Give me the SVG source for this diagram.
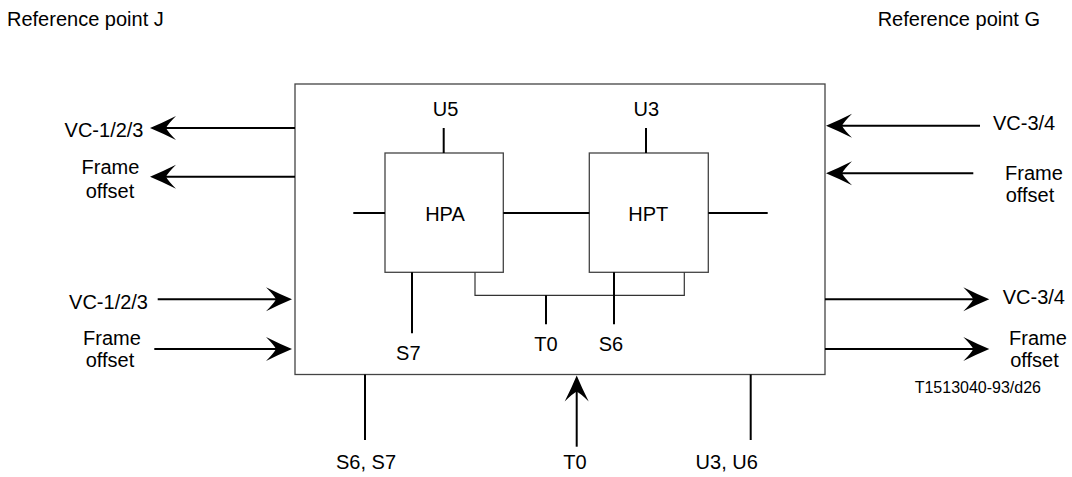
<svg xmlns="http://www.w3.org/2000/svg" width="1072" height="477" viewBox="0 0 1072 477">
<style>
text{font-family:"Liberation Sans",Arial,sans-serif;font-size:20px;fill:#000}
.s{font-size:16px}
.m{text-anchor:middle}
.e{text-anchor:end}
.box{fill:#fff;stroke:#444;stroke-width:1.3}
.w{stroke:#000;stroke-width:2;fill:none}
.t{stroke:#333;stroke-width:1.2;fill:none}
.a{stroke:#000;stroke-width:2;fill:none;marker-end:url(#ah)}
</style>
<defs>
<marker id="ah" markerUnits="userSpaceOnUse" viewBox="-27 -13 28 26" markerWidth="28" markerHeight="26" refX="-10" refY="0" orient="auto" overflow="visible">
<path d="M0,0 Q-12,-5 -26,-12 Q-18,-4 -16,0 Q-18,4 -26,12 Q-12,5 0,0 Z" fill="#000"/>
</marker>
</defs>
<g id="refJ"><text x="7" y="25.5">Reference point J</text></g>
<g id="refG"><text class="e" x="1040" y="25.5">Reference point G</text></g>
<g id="main"><rect class="box" x="295" y="84" width="530" height="290.5"/></g>
<g id="HPA"><rect class="box" x="385" y="153" width="118.3" height="119.3"/><text class="m" x="445" y="220.7">HPA</text></g>
<g id="HPT"><rect class="box" x="589.3" y="153" width="119" height="119.3"/><text class="m" x="648.3" y="220.7">HPT</text></g>
<g id="connectors">
<line class="a" x1="295" y1="128" x2="160" y2="128"/>
<line class="a" x1="295" y1="176.7" x2="160" y2="176.7"/>
<line class="a" x1="157.7" y1="299.3" x2="282" y2="299.3"/>
<line class="a" x1="154.3" y1="349" x2="282" y2="349"/>
<line class="a" x1="980" y1="125.7" x2="836" y2="125.7"/>
<line class="a" x1="973.3" y1="173.3" x2="836" y2="173.3"/>
<line class="a" x1="825" y1="299.3" x2="979.3" y2="299.3"/>
<line class="a" x1="825" y1="349" x2="979.3" y2="349"/>
<line class="a" x1="576.7" y1="446.7" x2="576.7" y2="385.5"/>
<line class="w" x1="365" y1="374.5" x2="365" y2="440"/>
<line class="w" x1="750.7" y1="374.5" x2="750.7" y2="440"/>
<line class="w" x1="353.3" y1="213" x2="385" y2="213"/>
<line class="w" x1="503.3" y1="213" x2="589.3" y2="213"/>
<line class="w" x1="708.3" y1="213" x2="767.7" y2="213"/>
<line class="w" x1="443.7" y1="128" x2="443.7" y2="153"/>
<line class="w" x1="646" y1="128" x2="646" y2="153"/>
<line class="w" x1="412" y1="272.3" x2="412" y2="333.3"/>
<polyline class="t" points="475,272.3 475,295.3 684.3,295.3 684.3,272.3"/>
<line class="w" x1="546" y1="295.3" x2="546" y2="324.3"/>
<line class="w" x1="614" y1="272.3" x2="614" y2="324.3"/>
</g>
<g id="labels">
<text class="e" x="143.5" y="137">VC-1/2/3</text>
<text class="m" x="110.5" y="174.3">Frame</text>
<text class="m" x="110" y="198">offset</text>
<text class="e" x="148" y="308.5">VC-1/2/3</text>
<text class="m" x="112" y="345">Frame</text>
<text class="m" x="110" y="367.3">offset</text>
<text x="993" y="130">VC-3/4</text>
<text class="m" x="1034" y="180">Frame</text>
<text class="m" x="1030" y="202">offset</text>
<text x="1002.7" y="303.5">VC-3/4</text>
<text class="m" x="1038" y="345">Frame</text>
<text class="m" x="1034.5" y="367.3">offset</text>
<text class="s e" x="1041" y="392.7">T1513040-93/d26</text>
<text class="m" x="445.5" y="115.7">U5</text>
<text class="m" x="646.3" y="115.7">U3</text>
<text class="m" x="408.3" y="360">S7</text>
<text class="m" x="546" y="351">T0</text>
<text class="m" x="611" y="351">S6</text>
<text class="m" x="366" y="469">S6, S7</text>
<text class="m" x="575" y="469">T0</text>
<text class="m" x="726.7" y="469">U3, U6</text>
</g>
</svg>
